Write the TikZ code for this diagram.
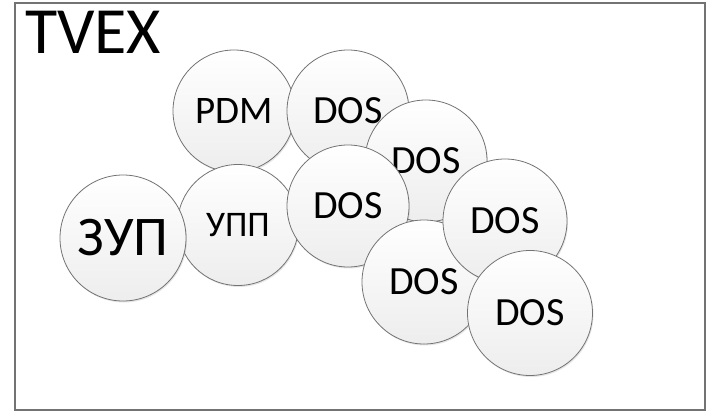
\documentclass[tikz,border=0pt]{standalone}
\usepackage{fontspec}
\setmainfont{Carlito}
\usetikzlibrary{shadows}

\begin{document}
\begin{tikzpicture}[x=1pt, y=-1pt,
		bol/.style={circle, draw=black!55, line width=0.8pt, top color=white, bottom color=black!7,
				inner sep=0pt, font=\fontsize{38}{40}\selectfont,
				drop shadow={shadow xshift=1pt, shadow yshift=-1.5pt, opacity=0.2, fill=black!50}},
		kader/.style={draw=black!55, line width=1.2pt}]
	% Vaste afmetingen van het plaatje
	\useasboundingbox (0,0) rectangle (707,412);

	% --- Kader met titel ---
	\draw[kader] (15,3) rectangle (705,410);
	\node[anchor=base west, inner sep=0pt, font=\fontsize{66}{68}\selectfont] (titel) at (25,54) {TVEX};

	% --- Bollen (volgorde = welke bovenop ligt) ---
	% Formaat: naam / x / y / diameter / lettergrootte / tekst
	\foreach \naam/\x/\y/\d/\fs/\tekst in {
			pdm/234/111/122/39/PDM,
			dosa/348/111/122/40/DOS,
			dosb/426/161/122/40/DOS,
			upp/238/225/121/36/УПП,
			zup/123/238/126/56/ЗУП,
			dosc/348/206/122/40/DOS,
			dose/424/282/124/40/DOS,
			dosd/505/221/124/40/DOS,
			dosf/530/313/125/40/DOS} {
			\node[bol, minimum size=\d pt, font=\fontsize{\fs}{\fs}\selectfont] (\naam) at (\x,\y) {\tekst};
		}

\end{tikzpicture}
\end{document}
